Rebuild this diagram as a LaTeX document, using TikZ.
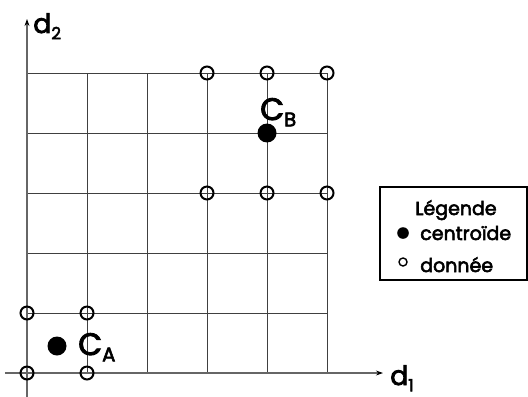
\documentclass[tikz,border=0pt]{standalone}
\usepackage{fontspec}
\setmainfont{Poppins}[FakeBold=3]
\usetikzlibrary{arrows.meta}
\newcommand{\indice}[2][14]{\raisebox{-4.5pt}{\fontsize{#1}{#1}\selectfont #2}}
\tikzset{
	grille/.style={draw=black!75,line width=0.7pt},
	axe/.style={draw=black!60,line width=0.8pt,-{Stealth[length=5pt,width=3.5pt,black]}},
	donnee/.style={circle,draw,line width=1.4pt,minimum size=0.325cm,inner sep=0pt},
	centroide/.style={circle,fill,minimum size=0.475cm,inner sep=0pt},
	grand/.style={inner sep=0pt,anchor=base west,font=\fontsize{22}{24}\selectfont},
	axetexte/.style={inner sep=0pt,anchor=base west,font=\fontsize{19}{21}\selectfont},
	legtexte/.style={inner sep=0pt,anchor=base west,font=\fontsize{13.5}{16}\selectfont}
}
\begin{document}
\begin{tikzpicture}[x=1.5cm,y=1.5cm]
				\useasboundingbox (-0.45,-0.3833) rectangle (8.35,6.2167);
				\draw[grille,step=1.5cm] (0,0) grid (5,5);
				% axes
				\coordinate (x0) at (-0.367,0);
				\coordinate (x1) at (5.933,0);
				\coordinate (y0) at (0,-0.4);
				\coordinate (y1) at (0,5.9);
				\draw[axe] (x0) -- (x1);
				\draw[axe] (y0) -- (y1);
				\node[axetexte] (d2) at (0.1,5.667) {d\indice[12]{2}};
				\node[axetexte] (d1) at (6.05,-0.2) {d\indice[12]{1}};
				% donnees
				\node[donnee] (p1) at (3,5) {};
				\node[donnee] (p2) at (4,5) {};
				\node[donnee] (p3) at (5,5) {};
				\node[donnee] (p4) at (3,3) {};
				\node[donnee] (p5) at (4,3) {};
				\node[donnee] (p6) at (5,3) {};
				\node[donnee] (p7) at (0,1) {};
				\node[donnee] (p8) at (1,1) {};
				\node[donnee] (p9) at (0,0) {};
				\node[donnee] (p10) at (1,0) {};
				% centroides
				\node[centroide] (ca) at (0.5,0.45) {};
				\node[centroide] (cb) at (4,4) {};
				\node[grand] (tca) at (0.85,0.3) {C\indice{A}};
				\node[grand] (tcb) at (3.883,4.217) {C\indice{B}};
				% legende
				\node[draw,line width=1.4pt,minimum width=3.675cm,minimum height=2.325cm,inner sep=0pt] (leg) at (7.108,2.325) {};
				\node[legtexte] (legtitre) at (6.467,2.633) {Légende};
				\node[centroide,minimum size=0.29cm] (legc) at (6.267,2.333) {};
				\node[legtexte] (legct) at (6.55,2.217) {centroïde};
				\node[donnee,line width=1pt,minimum size=0.2cm] (legd) at (6.267,1.85) {};
				\node[legtexte] (legdt) at (6.55,1.683) {donnée};
			\end{tikzpicture}
\end{document}
